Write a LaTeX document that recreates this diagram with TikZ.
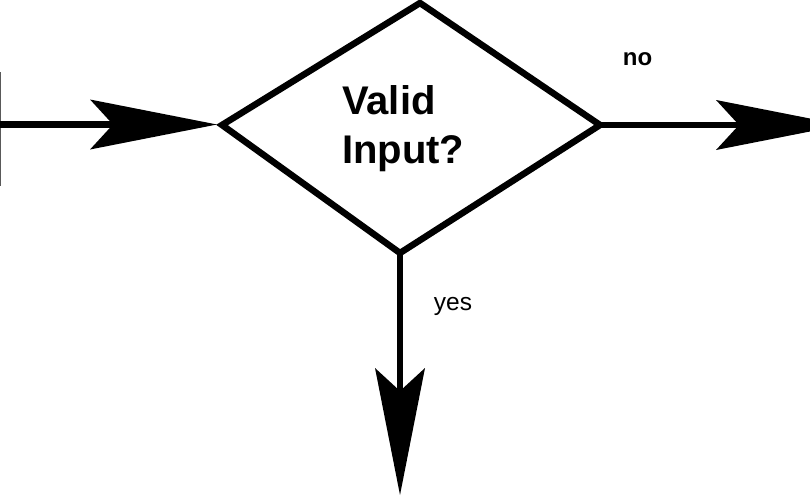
\documentclass[tikz,border=0pt]{standalone}
\usepackage{fontspec}
\setmainfont{Liberation Sans}
\usetikzlibrary{arrows.meta}
\begin{document}
\begin{tikzpicture}[x=1pt,y=-1pt,
  flow/.style={line width=6.5pt,
    -{Stealth[length=127pt,width=50pt,inset=23pt,line width=0pt]}},
  decision/.style={line width=6.5pt,line join=miter},
  lbl/.style={inner sep=0pt,anchor=base}]
\useasboundingbox (0,0) rectangle (810,496);
\clip (0,0) rectangle (810,496);
% diamond corners
\coordinate (dtop) at (420,3);
\coordinate (dleft) at (222,125);
\coordinate (dright) at (600,125);
\coordinate (dbot) at (400,253);
\draw[decision] (dtop) -- (dright) -- (dbot) -- (dleft) -- cycle;
\node[inner sep=0pt,anchor=west,align=left,font=\bfseries\fontsize{40}{49}\selectfont]
  (q) at (342,129) {Valid\\Input?};
% entry
\coordinate (bar1) at (0.7,72);
\coordinate (bar2) at (0.7,186);
\draw[line width=1.5pt,gray!70!black] (bar1) -- (bar2);
\coordinate (in) at (0,124.5);
\coordinate (inend) at (217,124.5);
\draw[flow] (in) -- (inend);
% no
\coordinate (noend) at (843,125);
\draw[flow] (dright) -- (noend);
\node[lbl,font=\bfseries\fontsize{24}{28}\selectfont] (no) at (637.5,65) {no};
% yes
\coordinate (yesend) at (400,495);
\draw[flow] (dbot) -- (yesend);
\node[lbl,font=\fontsize{24.5}{28}\selectfont] (yes) at (453,310) {yes};
\end{tikzpicture}
\end{document}
